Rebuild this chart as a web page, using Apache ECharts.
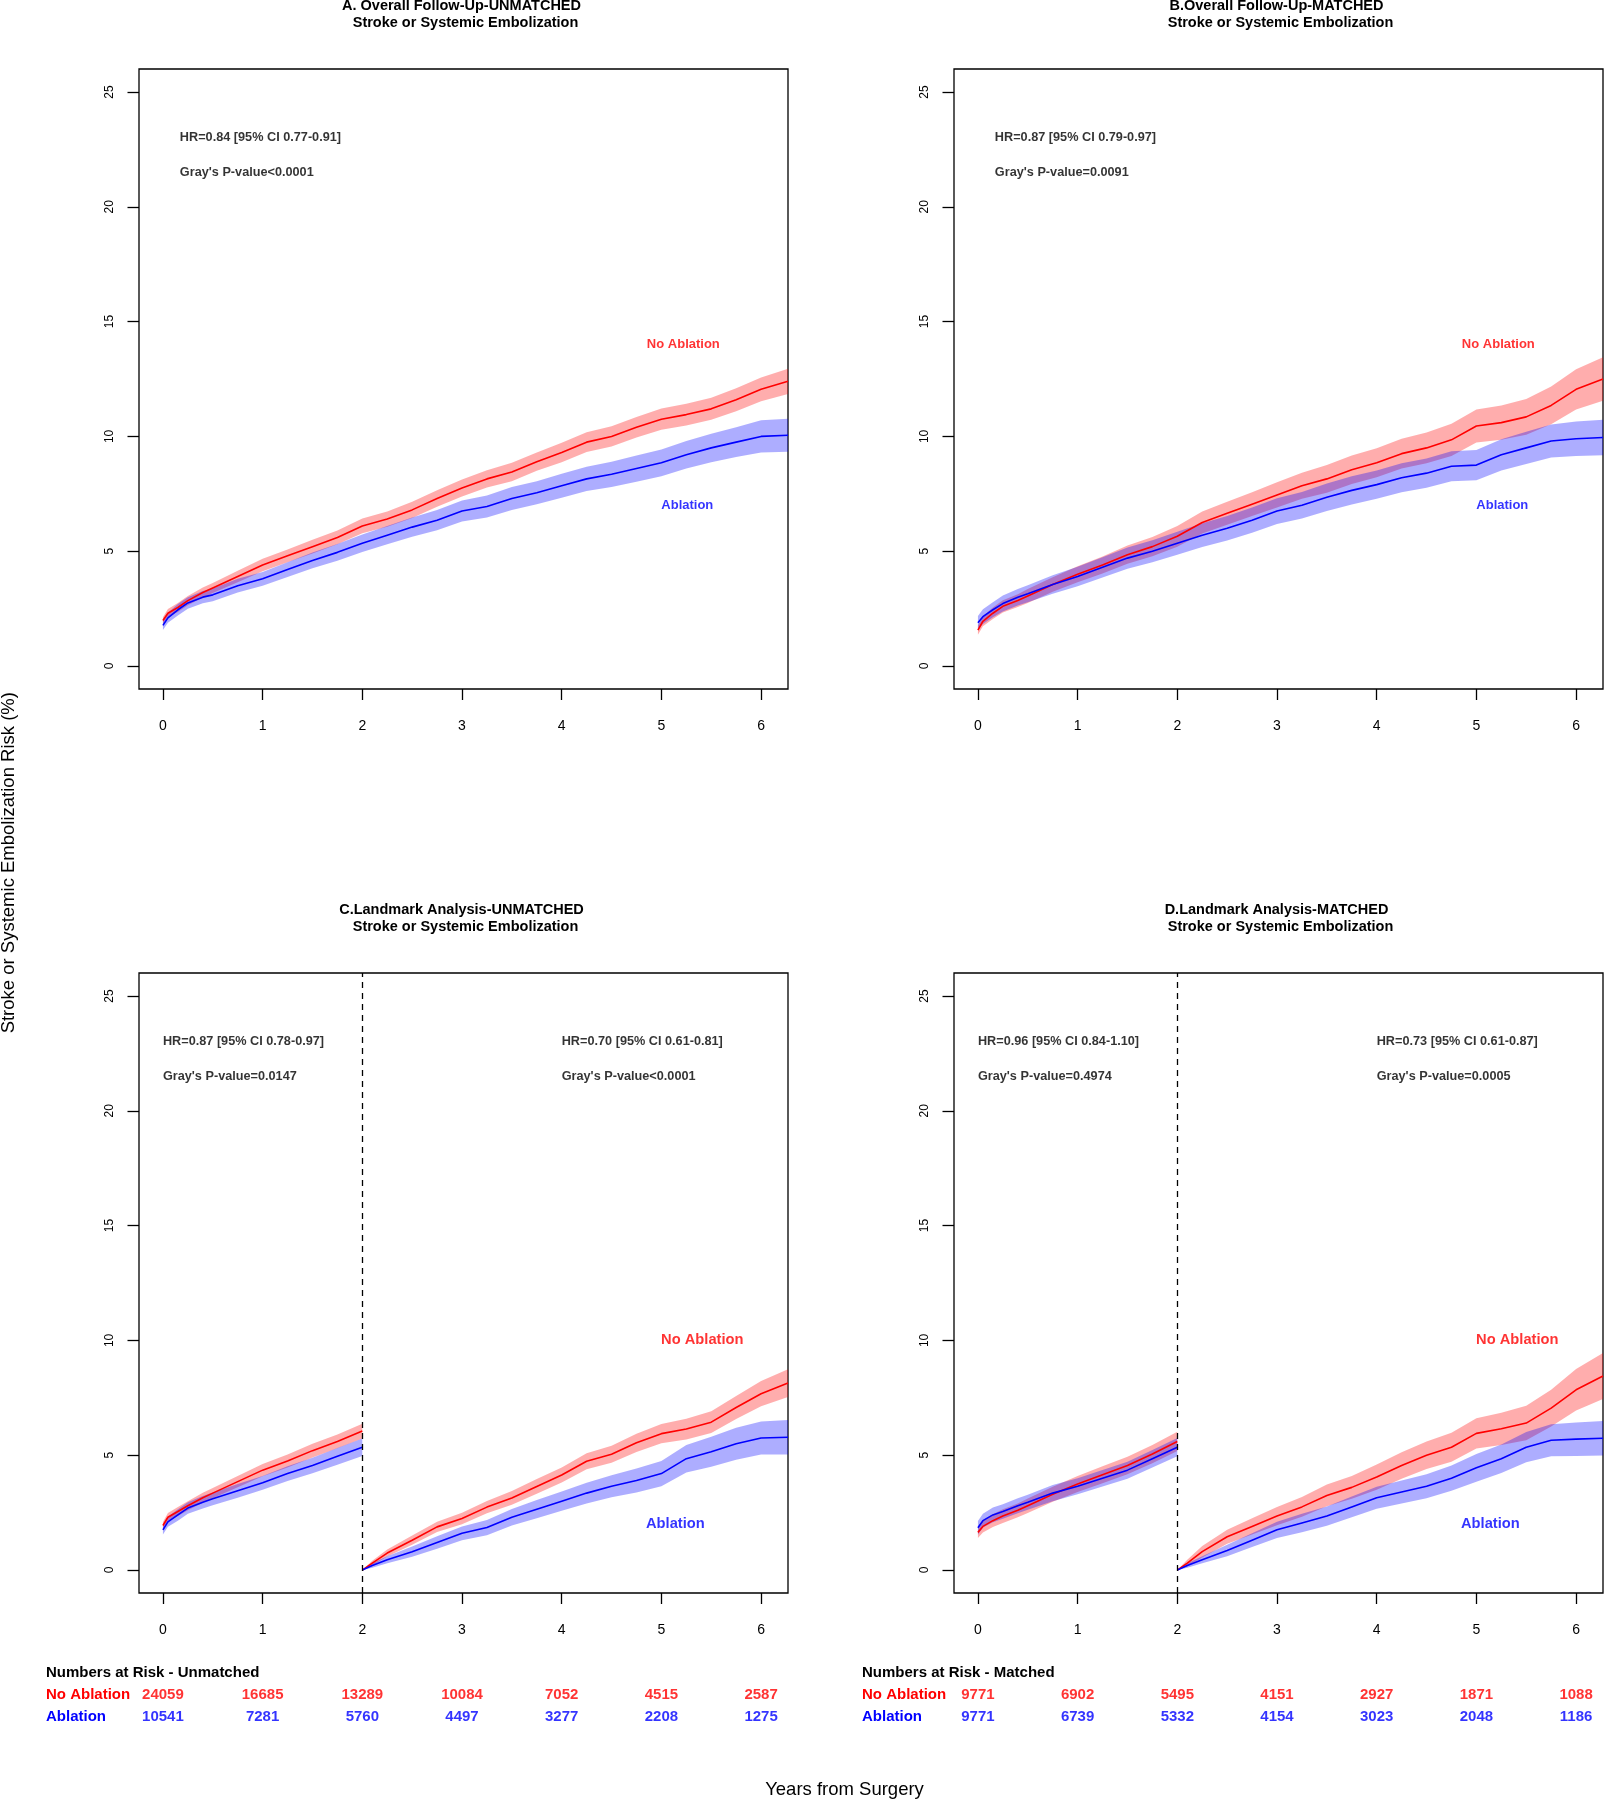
<!DOCTYPE html>
<html><head><meta charset="utf-8">
<script src="https://cdn.jsdelivr.net/npm/echarts@6/dist/echarts.min.js"></script>
<style>html,body{margin:0;padding:0;background:#fff}#c{width:1604px;height:1800px}</style>
</head><body><div id="c"></div>
<script>
const FONT = "'Liberation Sans', Arial, Helvetica, sans-serif";
const RED = '#FF0000', BLUE = '#0000FF';
const RED_BAND = 'rgba(255,0,0,0.32)', BLUE_BAND = 'rgba(0,0,255,0.32)';

const xTicks = [0, 1, 2, 3, 4, 5, 6];
const yTicks = [0, 5, 10, 15, 20, 25];
const landmarkYear = 2;

// ---- Overall follow-up (panels A, B) ----
const tOverall = [0,0.05,0.15,0.25,0.4,0.5,0.75,1,1.25,1.5,1.75,2,2.25,2.5,2.75,3,3.25,3.5,3.75,4,4.25,4.5,4.75,5,5.25,5.5,5.75,6,6.27];
const A_noAbl   = [1.98,2.3,2.55,2.85,3.2,3.4,3.9,4.4,4.8,5.2,5.6,6.1,6.4,6.8,7.3,7.75,8.15,8.45,8.9,9.3,9.75,10.0,10.4,10.75,10.95,11.2,11.6,12.05,12.4];
const A_noAblCI = [0.15,0.18,0.2,0.2,0.22,0.22,0.25,0.27,0.28,0.3,0.3,0.32,0.33,0.35,0.36,0.37,0.38,0.4,0.4,0.42,0.43,0.44,0.45,0.46,0.47,0.48,0.5,0.52,0.55];
const A_abl     = [1.77,2.1,2.45,2.75,3.0,3.1,3.5,3.8,4.2,4.6,4.95,5.35,5.7,6.05,6.35,6.75,6.95,7.3,7.55,7.85,8.15,8.35,8.6,8.85,9.2,9.5,9.75,10.0,10.05];
const A_ablCI   = [0.2,0.22,0.25,0.25,0.27,0.28,0.3,0.3,0.32,0.34,0.36,0.38,0.4,0.42,0.44,0.46,0.48,0.5,0.5,0.52,0.53,0.55,0.57,0.58,0.6,0.62,0.65,0.7,0.72];
const B_noAbl   = [1.56,1.95,2.3,2.6,2.85,3.05,3.55,4.0,4.4,4.85,5.2,5.65,6.25,6.65,7.05,7.45,7.85,8.15,8.55,8.85,9.25,9.5,9.85,10.45,10.6,10.85,11.35,12.05,12.5];
const B_noAblCI = [0.2,0.22,0.25,0.27,0.28,0.3,0.32,0.35,0.37,0.4,0.42,0.45,0.48,0.5,0.52,0.55,0.57,0.6,0.62,0.63,0.65,0.67,0.7,0.72,0.75,0.78,0.82,0.88,0.95];
const B_abl     = [1.88,2.15,2.45,2.72,3.0,3.15,3.55,3.9,4.3,4.7,5.0,5.35,5.7,6.0,6.35,6.75,7.0,7.35,7.65,7.9,8.2,8.4,8.7,8.75,9.2,9.5,9.8,9.9,9.95];
const B_ablCI   = [0.3,0.32,0.33,0.35,0.36,0.37,0.4,0.42,0.44,0.46,0.48,0.5,0.52,0.53,0.55,0.56,0.58,0.6,0.61,0.62,0.63,0.64,0.65,0.66,0.68,0.7,0.72,0.75,0.77];

// ---- Landmark analysis (panels C, D) ----
const tEarly = [0,0.05,0.15,0.25,0.4,0.5,0.75,1,1.25,1.5,1.75,2];
const tLate  = [2,2.1,2.25,2.5,2.75,3,3.25,3.5,3.75,4,4.25,4.5,4.75,5,5.25,5.5,5.75,6,6.27];
const C_noAblEarly   = [1.94,2.3,2.55,2.8,3.15,3.35,3.85,4.35,4.75,5.2,5.6,6.05];
const C_noAblEarlyCI = [0.15,0.18,0.2,0.2,0.22,0.22,0.25,0.27,0.28,0.3,0.3,0.32];
const C_ablEarly     = [1.75,2.1,2.4,2.7,2.95,3.1,3.45,3.8,4.2,4.55,4.95,5.35];
const C_ablEarlyCI   = [0.2,0.22,0.25,0.25,0.27,0.28,0.3,0.3,0.32,0.34,0.36,0.38];
const C_noAblLate    = [0,0.3,0.74,1.3,1.88,2.24,2.74,3.14,3.64,4.14,4.74,5.04,5.54,5.94,6.14,6.44,7.08,7.68,8.14];
const C_noAblLateCI  = [0,0.1,0.15,0.2,0.22,0.25,0.27,0.3,0.32,0.33,0.35,0.37,0.4,0.42,0.45,0.47,0.5,0.55,0.6];
const C_ablLate      = [0,0.2,0.45,0.8,1.2,1.6,1.85,2.3,2.65,3.0,3.35,3.65,3.9,4.2,4.85,5.15,5.5,5.75,5.78];
const C_ablLateCI    = [0,0.1,0.15,0.22,0.27,0.3,0.33,0.36,0.4,0.42,0.45,0.48,0.52,0.55,0.6,0.65,0.7,0.72,0.75];
const D_noAblEarly   = [1.64,1.9,2.15,2.35,2.6,2.8,3.3,3.75,4.15,4.55,5.05,5.6];
const D_noAblEarlyCI = [0.25,0.27,0.28,0.3,0.3,0.32,0.33,0.35,0.37,0.38,0.4,0.42];
const D_ablEarly     = [1.84,2.15,2.4,2.55,2.8,2.95,3.35,3.65,4.0,4.35,4.85,5.35];
const D_ablEarlyCI   = [0.3,0.3,0.32,0.32,0.33,0.33,0.35,0.35,0.36,0.37,0.38,0.4];
const D_noAblLate    = [0,0.3,0.8,1.45,1.9,2.35,2.75,3.25,3.6,4.05,4.55,5.0,5.35,5.95,6.15,6.4,7.05,7.85,8.45];
const D_noAblLateCI  = [0,0.15,0.25,0.3,0.35,0.4,0.43,0.47,0.5,0.55,0.58,0.6,0.63,0.66,0.7,0.75,0.8,0.9,1.0];
const D_ablLate      = [0,0.2,0.45,0.85,1.3,1.75,2.05,2.35,2.75,3.15,3.4,3.65,4.0,4.45,4.85,5.35,5.65,5.7,5.74];
const D_ablLateCI    = [0,0.1,0.15,0.25,0.3,0.35,0.4,0.42,0.45,0.48,0.5,0.52,0.55,0.6,0.62,0.66,0.7,0.73,0.75];

// ---- Text ----
const panelTitles = [
  ['A. Overall Follow-Up-UNMATCHED', ' Stroke or Systemic Embolization'],
  ['B.Overall Follow-Up-MATCHED', ' Stroke or Systemic Embolization'],
  ['C.Landmark Analysis-UNMATCHED', ' Stroke or Systemic Embolization'],
  ['D.Landmark Analysis-MATCHED', ' Stroke or Systemic Embolization']
];
const hrTexts = [
  [["HR=0.84 [95% CI 0.77-0.91]", "Gray's P-value<0.0001"]],
  [["HR=0.87 [95% CI 0.79-0.97]", "Gray's P-value=0.0091"]],
  [["HR=0.87 [95% CI 0.78-0.97]", "Gray's P-value=0.0147"], ["HR=0.70 [95% CI 0.61-0.81]", "Gray's P-value<0.0001"]],
  [["HR=0.96 [95% CI 0.84-1.10]", "Gray's P-value=0.4974"], ["HR=0.73 [95% CI 0.61-0.87]", "Gray's P-value=0.0005"]]
];
const groupNames = ['No Ablation', 'Ablation'];

// ---- Numbers at risk ----
const riskNoAblUnmatched = [24059,16685,13289,10084,7052,4515,2587];
const riskAblUnmatched   = [10541,7281,5760,4497,3277,2208,1275];
const riskNoAblMatched   = [9771,6902,5495,4151,2927,1871,1088];
const riskAblMatched     = [9771,6739,5332,4154,3023,2048,1186];

// ---------------- layout ----------------
const GRIDS = [
  {left:139, top:69, width:649, height:620},
  {left:954, top:69, width:649, height:620},
  {left:139, top:973, width:649, height:620},
  {left:954, top:973, width:649, height:620},
  {left:139, top:1684, width:649, height:44},
  {left:954, top:1684, width:649, height:44}
];
const XMIN = -0.24, XMAX = 6.27, YMIN = -1, YMAX = 26;

const grid = GRIDS.map((g, i) => Object.assign({}, g, {
  show: i < 4, borderColor: '#000', borderWidth: 1.3, backgroundColor: 'transparent', containLabel: false
}));

const xAxis = GRIDS.map((g, i) => ({
  gridIndex: i, type: 'value', min: XMIN, max: XMAX, show: i < 4, position: 'bottom',
  axisLine: {show: false, onZero: false}, splitLine: {show: false},
  axisTick: {show: true, length: 11, customValues: xTicks, lineStyle: {color: '#000', width: 1.3}},
  axisLabel: {customValues: xTicks, margin: 30, fontSize: 14, color: '#000', fontFamily: FONT}
}));
const yAxis = GRIDS.map((g, i) => i < 4 ? ({
  gridIndex: i, type: 'value', min: YMIN, max: YMAX, position: 'left',
  axisLine: {show: false, onZero: false}, splitLine: {show: false},
  axisTick: {show: true, length: 11.5, customValues: yTicks, lineStyle: {color: '#000', width: 1.3}},
  axisLabel: {customValues: yTicks, rotate: 90, margin: 23, fontSize: 12, color: '#000', fontFamily: FONT}
}) : ({
  gridIndex: i, type: 'category', data: groupNames, inverse: true, show: false
}));

const series = [];
function band(gi, t, est, ci, color) {
  series.push({
    type: 'custom', xAxisIndex: gi, yAxisIndex: gi, silent: true, animation: false,
    data: t.map((x, i) => [x, est[i] - ci[i], est[i] + ci[i]]),
    encode: {x: 0, y: [1, 2]},
    renderItem: (params, api) => {
      if (params.dataIndex !== 0) return null;
      const lower = [], upper = [];
      for (let i = 0; i < t.length; i++) {
        lower.push(api.coord([t[i], Math.max(0, est[i] - ci[i])]));
        upper.push(api.coord([t[i], est[i] + ci[i]]));
      }
      return {type: 'polygon', shape: {points: lower.concat(upper.reverse())}, style: {fill: color}};
    }
  });
}
function line(gi, t, est, color, extra) {
  series.push(Object.assign({
    type: 'line', xAxisIndex: gi, yAxisIndex: gi, silent: true, animation: false,
    data: t.map((x, i) => [x, est[i]]), symbol: 'none', showSymbol: false,
    lineStyle: {color: color, width: 1.6}, itemStyle: {color: color}
  }, extra || {}));
}
function curve(gi, t, est, ci, color, bandColor, extra) {
  band(gi, t, est, ci, bandColor);
  line(gi, t, est, color, extra);
}
const dashed = {markLine: {silent: true, symbol: ['none', 'none'], label: {show: false}, animation: false,
  lineStyle: {color: '#000', type: [6, 5], width: 1.3}, data: [{xAxis: landmarkYear}]}};

curve(0, tOverall, A_noAbl, A_noAblCI, RED, RED_BAND);
curve(0, tOverall, A_abl, A_ablCI, BLUE, BLUE_BAND);
curve(1, tOverall, B_noAbl, B_noAblCI, RED, RED_BAND);
curve(1, tOverall, B_abl, B_ablCI, BLUE, BLUE_BAND);
curve(2, tEarly, C_noAblEarly, C_noAblEarlyCI, RED, RED_BAND, dashed);
curve(2, tLate, C_noAblLate, C_noAblLateCI, RED, RED_BAND);
curve(2, tEarly, C_ablEarly, C_ablEarlyCI, BLUE, BLUE_BAND);
curve(2, tLate, C_ablLate, C_ablLateCI, BLUE, BLUE_BAND);
curve(3, tEarly, D_noAblEarly, D_noAblEarlyCI, RED, RED_BAND, dashed);
curve(3, tLate, D_noAblLate, D_noAblLateCI, RED, RED_BAND);
curve(3, tEarly, D_ablEarly, D_ablEarlyCI, BLUE, BLUE_BAND);
curve(3, tLate, D_ablLate, D_ablLateCI, BLUE, BLUE_BAND);

// annotations (positions in data units)
const hrX = [[0.17], [0.17], [0, 4], [0, 4]];
const hrY = [23, 21.5];
const groupLabelPos = [
  {x: [5.22, 5.26], y: [14, 7], size: 13},
  {x: [5.22, 5.26], y: [14, 7], size: 13},
  {x: [5.41, 5.14], y: [10, 2], size: 14.7},
  {x: [5.41, 5.14], y: [10, 2], size: 14.7}
];
for (let p = 0; p < 4; p++) {
  const items = [];
  hrTexts[p].forEach((pair, k) => {
    pair.forEach((txt, j) => items.push({
      value: [hrX[p][k], hrY[j]],
      label: {show: true, formatter: txt, position: 'right', distance: 0, color: '#000',
        fontWeight: 'bold', fontSize: 12.7, fontFamily: FONT}
    }));
  });
  const gp = groupLabelPos[p];
  groupNames.forEach((nm, j) => items.push({
    value: [gp.x[j], gp.y[j]],
    label: {show: true, formatter: nm, position: 'inside', color: j === 0 ? RED : BLUE,
      fontWeight: 'bold', fontSize: gp.size, fontFamily: FONT}
  }));
  series.push({type: 'scatter', xAxisIndex: p, yAxisIndex: p, symbolSize: 0, silent: true,
    animation: false, itemStyle: {color: 'transparent'}, data: items});
}

// numbers at risk tables
function riskRow(gi, row, vals, color) {
  series.push({
    type: 'scatter', xAxisIndex: gi, yAxisIndex: gi, symbolSize: 0, silent: true, animation: false,
    itemStyle: {color: 'transparent'},
    data: vals.map((v, i) => [xTicks[i], row, v]),
    label: {show: true, position: 'inside', formatter: p => String(p.value[2]), color: color,
      fontWeight: 'bold', fontSize: 15, fontFamily: FONT}
  });
}
riskRow(4, 0, riskNoAblUnmatched, RED);
riskRow(4, 1, riskAblUnmatched, BLUE);
riskRow(5, 0, riskNoAblMatched, RED);
riskRow(5, 1, riskAblMatched, BLUE);

// free text
const graphic = [];
function txt(text, x, y, font, fill, align, rotation) {
  graphic.push({type: 'text', x: x, y: y, rotation: rotation || 0, silent: true,
    style: {text: text, font: font, fill: fill || '#000', textAlign: align || 'center', textVerticalAlign: 'middle'}});
}
const titleFont = "bold 14.5px " + FONT;
[[0, 5.8], [1, 5.8], [2, 909.8], [3, 909.8]].forEach(([p, y]) => {
  const cx = GRIDS[p].left + GRIDS[p].width / 2;
  txt(panelTitles[p][0], cx - 2, y, titleFont);
  txt(panelTitles[p][1], cx, y + 17.5, titleFont);
});
txt('Stroke or Systemic Embolization Risk (%)', 9, 862.7, "18.5px " + FONT, '#000', 'center', Math.PI / 2);
txt('Years from Surgery', 844.5, 1790, "18.5px " + FONT);
const riskFont = "bold 15px " + FONT;
[[46, 'Numbers at Risk - Unmatched'], [862, 'Numbers at Risk - Matched']].forEach(([x, h]) => {
  txt(h, x, 1673, riskFont, '#000', 'left');
  txt(groupNames[0], x, 1695, riskFont, RED, 'left');
  txt(groupNames[1], x, 1717, riskFont, BLUE, 'left');
});

const chart = echarts.init(document.getElementById('c'), null, {renderer: 'canvas'});
chart.setOption({animation: false, backgroundColor: '#fff', grid, xAxis, yAxis, series, graphic});
</script></body></html>
